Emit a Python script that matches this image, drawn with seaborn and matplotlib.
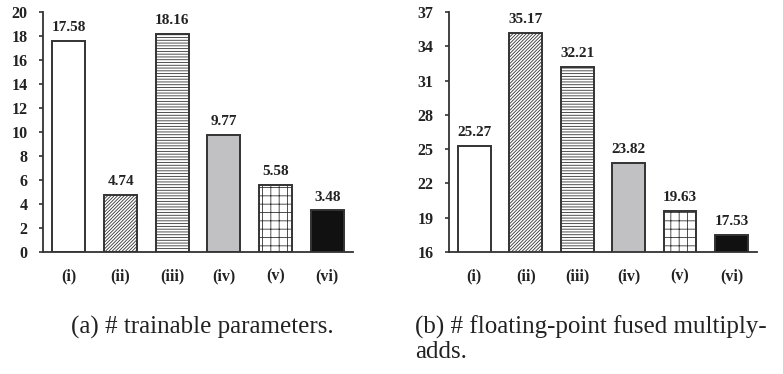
import matplotlib
matplotlib.use("Agg")
import matplotlib.pyplot as plt
import seaborn as sns
import pandas as pd

# Data
categories = ["(i)", "(ii)", "(iii)", "(iv)", "(v)", "(vi)"]
params = [17.58, 4.74, 18.16, 9.77, 5.58, 3.48]
fmas = [25.27, 35.17, 32.21, 23.82, 19.63, 17.53]
param_ticks = [0, 2, 4, 6, 8, 10, 12, 14, 16, 18, 20]
fma_ticks = [16, 19, 22, 25, 28, 31, 34, 37]
captions = ["(a) # trainable parameters.", "(b) # floating-point fused multiply-\nadds."]

# Per-bar styling
fills = ["white", "white", "white", "#c0c1c5", "white", "#111111"]
hatches = [None, "//////////", "------", None, "++", None]

sns.set_theme(style="white")
plt.rcParams["font.family"] = ["Liberation Serif", "DejaVu Serif"]
plt.rcParams["hatch.linewidth"] = 0.6
plt.rcParams["hatch.color"] = "#444444"

fig = plt.figure(figsize=(7.83, 3.74), dpi=100)
ax1 = fig.add_axes([0.055, 0.326, 0.396, 0.642])
ax2 = fig.add_axes([0.573, 0.326, 0.394, 0.642])


def draw(ax, values, ticks):
    df = pd.DataFrame({"cat": categories, "val": values})
    sns.barplot(data=df, x="cat", y="val", hue="cat", palette=fills,
                width=0.64, edgecolor="#333333", linewidth=1.4,
                legend=False, ax=ax)
    for patch, h in zip(ax.patches, hatches):
        if h:
            patch.set_hatch(h)
    ax.set_ylim(ticks[0], ticks[-1])
    ax.set_yticks(ticks)
    ax.set_xlim(-0.5, 5.5)
    ax.set_xlabel("")
    ax.set_ylabel("")
    for s in ["top", "right"]:
        ax.spines[s].set_visible(False)
    for s in ["left", "bottom"]:
        ax.spines[s].set_color("#333333")
        ax.spines[s].set_linewidth(1.3)
    ax.tick_params(axis="y", direction="out", length=3, width=1.2,
                   color="#333333", left=True, pad=8)
    ax.tick_params(axis="x", length=0, pad=12)
    for lab in ax.get_xticklabels() + ax.get_yticklabels():
        lab.set_fontweight("bold")
        lab.set_fontsize(11.5)
        lab.set_color("#222222")
    span = ticks[-1] - ticks[0]
    for i, v in enumerate(values):
        ax.text(i, v + span * 0.028, f"{v:.2f}", ha="center", va="bottom",
                fontsize=11, fontweight="bold", color="#222222")


draw(ax1, params, param_ticks)
draw(ax2, fmas, fma_ticks)

fig.text(0.091, 0.155, captions[0], fontsize=18, color="#222222",
         va="top", ha="left", linespacing=1.08)
fig.text(0.530, 0.155, captions[1], fontsize=18, color="#222222",
         va="top", ha="left", linespacing=1.08)

fig.savefig("out.png", dpi=100)
